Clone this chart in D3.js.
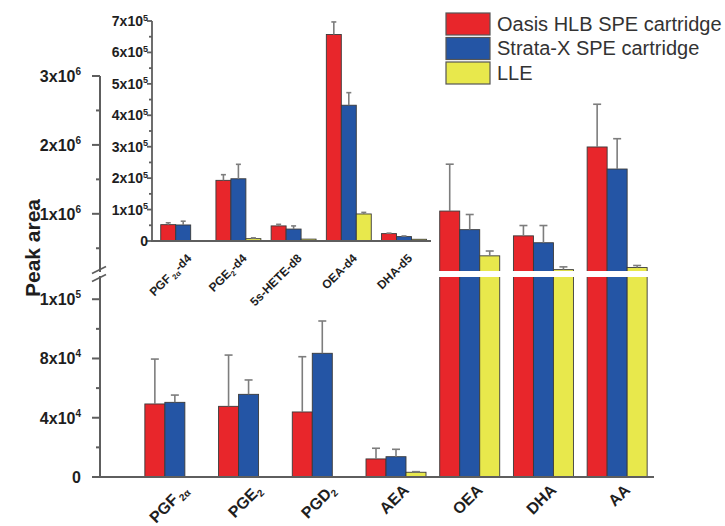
<!DOCTYPE html>
<html><head><meta charset="utf-8">
<script src="https://cdn.jsdelivr.net/npm/d3@7"></script>
<style>
body{margin:0;background:#fff}
svg{display:block;font-family:"Liberation Sans",Arial,sans-serif}
</style></head><body>
<svg id="c" width="725" height="526"></svg>
<script>
// ---------- data ----------
const seriesNames = ["Oasis HLB SPE cartridge", "Strata-X SPE cartridge", "LLE"];
const seriesColors = ["#e8262b", "#2455a5", "#e8e84c"];

const mainCats = ["PGF2α", "PGE2", "PGD2", "AEA", "OEA", "DHA", "AA"];
const mainLabelBase = ["PGF", "PGE", "PGD", "AEA", "OEA", "DHA", "AA"];
const mainLabelSub = ["2α", "2", "2", "", "", "", ""];
const mainOasis = [49300, 47700, 43900, 12200, 1040000, 680000, 1970000];
const mainOasisErr = [30300, 34600, 37300, 7200, 680000, 150000, 620000];
const mainStrata = [50400, 55800, 83500, 13700, 770000, 580000, 1650000];
const mainStrataErr = [4900, 9700, 21800, 5000, 220000, 250000, 440000];
const mainLLE = [null, null, null, 3200, 390000, 190000, 220000];
const mainLLEErr = [0, 0, 0, 400, 70000, 40000, 30000];

const mainTickVals = [0, 40000, 80000, 120000, 1000000, 2000000, 3000000];
const mainTickBase = ["0", "4x10", "8x10", "1x10", "1x10", "2x10", "3x10"];
const mainTickExp = ["", "4", "4", "5", "6", "6", "6"];
const mainMinorVals = [20000, 60000, 100000, 500000, 1500000, 2500000];

const insetCats = ["PGF2α-d4", "PGE2-d4", "5s-HETE-d8", "OEA-d4", "DHA-d5"];
const insetLabelBase = ["PGF", "PGE", "5s-HETE-d8", "OEA-d4", "DHA-d5"];
const insetLabelSub = ["2α", "2", "", "", ""];
const insetLabelTail = ["-d4", "-d4", "", "", ""];
const insetOasis = [52000, 193000, 48000, 657000, 23500];
const insetOasisErr = [6000, 18000, 5000, 40000, 1500];
const insetStrata = [51000, 198000, 38000, 432000, 14000];
const insetStrataErr = [12000, 46000, 10000, 40000, 2000];
const insetLLE = [null, 7500, 6000, 86000, 5500];
const insetLLEErr = [0, 2500, 0, 5000, 0];

const insetTickVals = [0, 100000, 200000, 300000, 400000, 500000, 600000, 700000];
const insetTickBase = ["0", "1x10", "2x10", "3x10", "4x10", "5x10", "6x10", "7x10"];
const insetTickExp = ["", "5", "5", "5", "5", "5", "5", "5"];
const insetMinorVals = [50000, 150000, 250000, 350000, 450000, 550000, 650000];

// ---------- build tables ----------
function table(cats, vals, errs) {
  return cats.map((c, i) => ({
    cat: c,
    bars: vals.map((v, s) => ({ s, v: v[i], e: errs[s][i] }))
  }));
}
const mainData = table(mainCats, [mainOasis, mainStrata, mainLLE], [mainOasisErr, mainStrataErr, mainLLEErr]);
const insetData = table(insetCats, [insetOasis, insetStrata, insetLLE], [insetOasisErr, insetStrataErr, insetLLEErr]);

const svg = d3.select("#c");
const axisColor = "#5e5e5e";
const textColor = "#1e1e1e";
const errColor = "#7d7d7d";
const barStroke = "#3a3a3a";

// ---------- main chart scales ----------
const mainLeft = 100, mainRight = 654;
const yMain = d3.scaleLinear()
  .domain([0, 135000, 170000, 3000000])
  .range([477, 277, 271, 76]);
const xMain = d3.scaleBand().domain(mainCats).range([138, 654]).paddingInner(0.186).paddingOuter(0.093);
const xMainSub = d3.scaleBand().domain([0, 1, 2]).range([0, xMain.bandwidth()]);

function drawBars(g, data, x, xs, y, capW) {
  const grp = g.selectAll(null).data(data).enter().append("g")
    .attr("transform", d => `translate(${x(d.cat)},0)`);
  const bars = grp.selectAll(null).data(d => d.bars.filter(b => b.v != null)).enter();
  bars.append("rect")
    .attr("x", b => xs(b.s))
    .attr("width", xs.bandwidth())
    .attr("y", b => y(b.v))
    .attr("height", b => y(0) - y(b.v))
    .attr("fill", b => seriesColors[b.s])
    .attr("stroke", barStroke).attr("stroke-width", 0.9);
  const eb = grp.selectAll(null).data(d => d.bars.filter(b => b.v != null && b.e > 0)).enter().append("g")
    .attr("stroke", errColor).attr("stroke-width", 1.6);
  eb.append("line")
    .attr("x1", b => xs(b.s) + xs.bandwidth() / 2).attr("x2", b => xs(b.s) + xs.bandwidth() / 2)
    .attr("y1", b => y(b.v)).attr("y2", b => y(b.v + b.e));
  eb.append("line")
    .attr("x1", b => xs(b.s) + xs.bandwidth() / 2 - capW).attr("x2", b => xs(b.s) + xs.bandwidth() / 2 + capW)
    .attr("y1", b => y(b.v + b.e)).attr("y2", b => y(b.v + b.e));
}

const gMain = svg.append("g");
drawBars(gMain, mainData, xMain, xMainSub, yMain, 4);

// white break band across bars
gMain.append("rect").attr("x", mainLeft + 3).attr("width", mainRight - mainLeft + 6)
  .attr("y", yMain(170000)).attr("height", yMain(135000) - yMain(170000)).attr("fill", "#fff");

// main axes
const ax = svg.append("g").attr("stroke", axisColor).attr("stroke-width", 2).attr("fill", "none");
ax.append("line").attr("x1", mainLeft).attr("x2", mainLeft).attr("y1", yMain(0) + 1).attr("y2", yMain(135000) - 1);
ax.append("line").attr("x1", mainLeft).attr("x2", mainLeft).attr("y1", yMain(170000) + 1).attr("y2", yMain(3000000));
ax.append("line").attr("x1", mainLeft - 1).attr("x2", mainRight).attr("y1", yMain(0)).attr("y2", yMain(0));
// break marks
const bm = yMain(150000);
ax.append("line").attr("x1", mainLeft - 8).attr("x2", mainLeft + 6).attr("y1", bm - 1).attr("y2", bm - 8).attr("stroke-width", 1.6);
ax.append("line").attr("x1", mainLeft - 8).attr("x2", mainLeft + 6).attr("y1", bm + 7).attr("y2", bm).attr("stroke-width", 1.6);

// ticks
ax.selectAll(null).data(mainTickVals).enter().append("line")
  .attr("x1", mainLeft - 8).attr("x2", mainLeft).attr("y1", d => yMain(d)).attr("y2", d => yMain(d));
ax.selectAll(null).data(mainMinorVals).enter().append("line")
  .attr("x1", mainLeft - 4).attr("x2", mainLeft).attr("y1", d => yMain(d)).attr("y2", d => yMain(d));

function tickLabels(vals, base, exp, y, xEnd, fs, supFs, supDy) {
  const t = svg.append("g").selectAll(null).data(vals).enter().append("text")
    .attr("x", xEnd).attr("y", d => y(d) + fs * 0.36)
    .attr("text-anchor", "end").attr("font-weight", "bold").attr("font-size", fs)
    .attr("fill", textColor);
  t.append("tspan").text((d, i) => base[i]);
  t.append("tspan").attr("font-size", supFs).attr("dy", (d, i) => exp[i] ? supDy : 0).text((d, i) => exp[i]);
}
tickLabels(mainTickVals, mainTickBase, mainTickExp, yMain, 81, 16, 10, -7);

// main x labels
const mxl = svg.append("g").selectAll(null).data(mainCats).enter().append("text")
  .attr("transform", d => `translate(${xMain(d) + xMain.bandwidth() / 2 + 14},491) rotate(-45)`)
  .attr("text-anchor", "end").attr("font-weight", "bold").attr("font-size", 16).attr("fill", textColor);
mxl.append("tspan").text((d, i) => mainLabelBase[i]);
mxl.append("tspan").attr("font-size", 10).attr("dy", (d, i) => mainLabelSub[i] ? 3.5 : 0)
  .attr("dx", (d, i) => mainLabelSub[i] === "2α" ? 2 : 0).text((d, i) => mainLabelSub[i]);

// y title
svg.append("text").attr("transform", "translate(40,248) rotate(-90)")
  .attr("text-anchor", "middle").attr("font-weight", "bold").attr("font-size", 21)
  .attr("fill", textColor).text("Peak area");

// ---------- inset ----------
const inLeft = 152, inRight = 431;
const yIn = d3.scaleLinear().domain([0, 700000]).range([241, 21]);
const xIn = d3.scaleBand().domain(insetCats).range([155.6, 431.6]).paddingInner(0.186).paddingOuter(0.093);
const xInSub = d3.scaleBand().domain([0, 1, 2]).range([0, xIn.bandwidth()]);
const gIn = svg.append("g");
drawBars(gIn, insetData, xIn, xInSub, yIn, 2.5);

const iax = svg.append("g").attr("stroke", axisColor).attr("stroke-width", 1.8).attr("fill", "none");
iax.append("line").attr("x1", inLeft).attr("x2", inLeft).attr("y1", yIn(0)).attr("y2", yIn(700000));
iax.append("line").attr("x1", inLeft - 1).attr("x2", inRight).attr("y1", yIn(0)).attr("y2", yIn(0));
iax.selectAll(null).data(insetTickVals).enter().append("line")
  .attr("x1", inLeft - 5).attr("x2", inLeft).attr("y1", d => yIn(d)).attr("y2", d => yIn(d));
iax.selectAll(null).data(insetMinorVals).enter().append("line")
  .attr("x1", inLeft - 3).attr("x2", inLeft).attr("y1", d => yIn(d)).attr("y2", d => yIn(d));
tickLabels(insetTickVals, insetTickBase, insetTickExp, yIn, 148, 14, 9, -5.5);

const ixl = svg.append("g").selectAll(null).data(insetCats).enter().append("text")
  .attr("transform", d => `translate(${xIn(d) + xIn.bandwidth() / 2 + 9},259) rotate(-45)`)
  .attr("text-anchor", "end").attr("font-weight", "bold").attr("font-size", 12).attr("fill", textColor);
ixl.append("tspan").text((d, i) => insetLabelBase[i]);
ixl.append("tspan").attr("font-size", 7.5).attr("dy", (d, i) => insetLabelSub[i] ? 3 : 0)
  .attr("dx", (d, i) => insetLabelSub[i] === "2α" ? 2 : 0).text((d, i) => insetLabelSub[i]);
ixl.append("tspan").attr("dy", (d, i) => insetLabelSub[i] ? -3 : 0).text((d, i) => insetLabelTail[i]);

// ---------- legend ----------
const lg = svg.append("g").selectAll(null).data(seriesNames).enter().append("g")
  .attr("transform", (d, i) => `translate(446,${13 + i * 24.5})`);
lg.append("rect").attr("width", 44).attr("height", 22)
  .attr("fill", (d, i) => seriesColors[i]).attr("stroke", "#555").attr("stroke-width", 1.2);
lg.append("text").attr("x", 51).attr("y", 17.5).attr("font-size", 20).attr("fill", "#333").text(d => d);
</script>
</body></html>
